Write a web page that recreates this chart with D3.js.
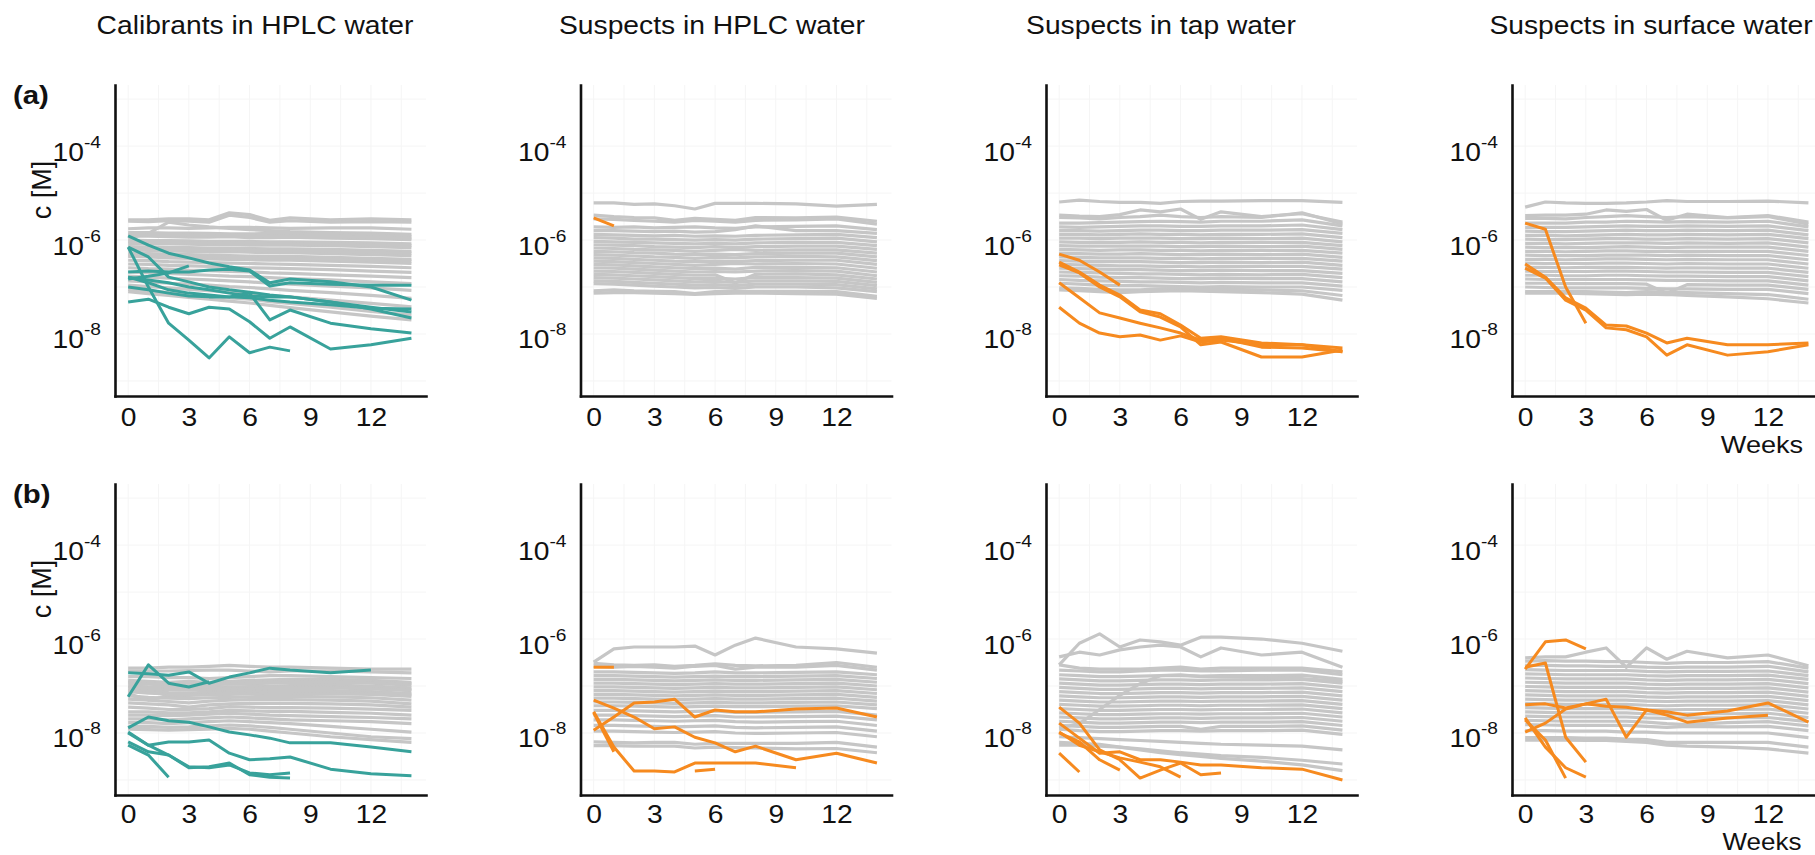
<!DOCTYPE html>
<html><head><meta charset="utf-8">
<script src="https://cdn.jsdelivr.net/npm/d3@7"></script>
<style>body{margin:0;background:#fff}svg{display:block}</style>
</head><body>
<svg id="chart" width="1815" height="855"></svg>
<script>
// ---------- DATA (log10 of concentration in M) ----------
const weeks = [0,1,2,3,4,5,6,7,8,10,12,14];
const panelTitles = ["Calibrants in HPLC water","Suspects in HPLC water","Suspects in tap water","Suspects in surface water"];
const rowLabels = ["(a)","(b)"];
const yTickExps = [-4,-6,-8];
const xTickWeeks = [0,3,6,9,12];
const yAxisLabel = "c [M]";
const xAxisLabel = "Weeks";

const grayA1 = [
[-5.57,-5.57,-5.55,-5.55,-5.57,-5.42,-5.46,-5.58,-5.53,-5.57,-5.55,-5.57],
[-5.60,-5.61,-5.59,-5.60,-5.62,-5.47,-5.52,-5.62,-5.59,-5.62,-5.61,-5.62],
[-5.76,-5.74,-5.74,-5.75,-5.74,-5.73,-5.73,-5.74,-5.75,-5.74,-5.74,-5.77],
[-5.96,-5.86,-5.62,-5.68,-5.72,-5.75,-5.78,-5.80,-5.82,-5.84,-5.85,-5.88],
[-5.84,-5.84,-5.85,-5.85,-5.86,-5.87,-5.87,-5.86,-5.86,-5.88,-5.90,-5.92],
[-5.92,-5.92,-5.93,-5.94,-5.94,-5.93,-5.95,-5.95,-5.94,-5.96,-5.97,-5.99],
[-6.00,-6.01,-6.01,-6.02,-6.03,-6.03,-6.03,-6.04,-6.04,-6.05,-6.06,-6.08],
[-6.07,-6.08,-6.08,-6.09,-6.10,-6.10,-6.11,-6.11,-6.11,-6.12,-6.14,-6.16],
[-6.14,-6.15,-6.16,-6.16,-6.17,-6.17,-6.18,-6.19,-6.19,-6.20,-6.22,-6.24],
[-6.21,-6.22,-6.23,-6.24,-6.25,-6.25,-6.26,-6.27,-6.27,-6.29,-6.31,-6.33],
[-6.28,-6.29,-6.30,-6.31,-6.32,-6.33,-6.34,-6.35,-6.35,-6.37,-6.39,-6.41],
[-6.35,-6.36,-6.38,-6.39,-6.40,-6.41,-6.42,-6.43,-6.43,-6.45,-6.47,-6.50],
[-6.43,-6.44,-6.46,-6.47,-6.48,-6.49,-6.50,-6.51,-6.52,-6.54,-6.56,-6.59],
[-6.51,-6.52,-6.54,-6.55,-6.56,-6.58,-6.59,-6.60,-6.61,-6.63,-6.66,-6.69],
[-6.59,-6.61,-6.62,-6.64,-6.65,-6.67,-6.68,-6.70,-6.71,-6.74,-6.77,-6.80],
[-6.68,-6.70,-6.71,-6.73,-6.75,-6.77,-6.78,-6.80,-6.82,-6.85,-6.89,-6.93],
[-6.77,-6.79,-6.81,-6.83,-6.85,-6.87,-6.89,-6.92,-6.94,-6.98,-7.02,-7.07],
[-6.87,-6.89,-6.92,-6.94,-6.96,-6.99,-7.01,-7.04,-7.07,-7.12,-7.18,-7.24],
[-6.96,-6.99,-7.02,-7.05,-7.08,-7.11,-7.14,-7.18,-7.21,-7.28,-7.35,-7.42],
[-7.05,-7.08,-7.12,-7.15,-7.19,-7.23,-7.26,-7.31,-7.35,-7.43,-7.52,-7.60],
[-7.10,-7.14,-7.18,-7.22,-7.26,-7.30,-7.34,-7.39,-7.44,-7.53,-7.62,-7.70],
[-5.88,-5.89,-5.89,-5.90,-5.91,-5.90,-5.91,-5.92,-5.91,-5.92,-5.94,-5.96],
[-6.04,-6.05,-6.05,-6.06,-6.07,-6.06,-6.07,-6.08,-6.08,-6.09,-6.10,-6.12],
[-6.18,-6.19,-6.20,-6.20,-6.21,-6.21,-6.22,-6.23,-6.23,-6.24,-6.26,-6.28],
[-6.32,-6.33,-6.34,-6.35,-6.36,-6.37,-6.38,-6.39,-6.39,-6.41,-6.43,-6.45]
];
const grayA2 = [
[-5.21,-5.21,-5.24,-5.23,-5.27,-5.34,-5.22,-5.22,-5.22,-5.23,-5.28,-5.24],
[-5.47,-5.50,-5.52,-5.53,-5.58,-5.54,-5.56,-5.58,-5.52,-5.53,-5.51,-5.60],
[-5.55,-5.56,-5.58,-5.60,-5.62,-5.58,-5.60,-5.62,-5.58,-5.57,-5.55,-5.66],
[-5.72,-5.73,-5.72,-5.74,-5.73,-5.72,-5.74,-5.75,-5.72,-5.71,-5.70,-5.78],
[-5.80,-5.80,-5.81,-5.82,-5.81,-5.83,-5.82,-5.78,-5.70,-5.80,-5.80,-5.86],
[-5.88,-5.89,-5.90,-5.91,-5.90,-5.92,-5.91,-5.92,-5.90,-5.89,-5.88,-5.95],
[-5.95,-5.96,-5.98,-5.98,-5.99,-6.00,-5.99,-6.00,-5.98,-5.97,-5.96,-6.04],
[-6.03,-6.04,-6.05,-6.06,-6.07,-6.08,-6.07,-6.08,-6.06,-6.05,-6.05,-6.12],
[-6.10,-6.11,-6.12,-6.14,-6.15,-6.16,-6.14,-6.16,-6.14,-6.13,-6.13,-6.20],
[-6.17,-6.18,-6.20,-6.21,-6.22,-6.24,-6.22,-6.20,-6.22,-6.21,-6.21,-6.28],
[-6.24,-6.25,-6.27,-6.28,-6.30,-6.31,-6.30,-6.31,-6.29,-6.28,-6.28,-6.36],
[-6.31,-6.32,-6.34,-6.36,-6.37,-6.39,-6.37,-6.38,-6.36,-6.35,-6.36,-6.44],
[-6.38,-6.39,-6.41,-6.43,-6.45,-6.46,-6.45,-6.46,-6.44,-6.43,-6.43,-6.52],
[-6.45,-6.46,-6.48,-6.50,-6.52,-6.54,-6.52,-6.50,-6.51,-6.50,-6.51,-6.60],
[-6.52,-6.53,-6.55,-6.57,-6.59,-6.61,-6.60,-6.62,-6.58,-6.58,-6.59,-6.68],
[-6.59,-6.60,-6.62,-6.64,-6.66,-6.68,-6.67,-6.68,-6.66,-6.65,-6.66,-6.76],
[-6.66,-6.67,-6.69,-6.71,-6.73,-6.75,-6.74,-6.91,-6.73,-6.72,-6.74,-6.83],
[-6.73,-6.74,-6.76,-6.78,-6.80,-6.82,-6.81,-6.83,-6.80,-6.80,-6.81,-6.90],
[-6.80,-6.81,-6.83,-6.85,-6.87,-6.89,-6.88,-6.90,-6.87,-6.87,-6.88,-6.97],
[-6.87,-6.88,-6.90,-6.92,-6.94,-6.96,-6.95,-6.97,-6.94,-6.94,-6.95,-7.04],
[-6.93,-6.94,-6.96,-6.98,-7.00,-7.02,-7.01,-7.03,-7.00,-7.00,-7.02,-7.10],
[-7.08,-7.06,-7.08,-7.09,-7.10,-7.14,-7.10,-7.09,-7.09,-7.09,-7.10,-7.20],
[-7.13,-7.12,-7.12,-7.13,-7.14,-7.16,-7.14,-7.13,-7.13,-7.14,-7.15,-7.24]
];
const grayA3 = [
[-5.19,-5.15,-5.18,-5.20,-5.20,-5.22,-5.18,-5.17,-5.17,-5.16,-5.16,-5.20],
[-5.47,-5.49,-5.50,-5.46,-5.36,-5.40,-5.34,-5.56,-5.40,-5.50,-5.44,-5.62],
[-5.52,-5.53,-5.55,-5.52,-5.50,-5.47,-5.50,-5.52,-5.50,-5.52,-5.42,-5.66],
[-5.64,-5.64,-5.63,-5.62,-5.61,-5.60,-5.61,-5.62,-5.60,-5.60,-5.57,-5.70],
[-5.72,-5.73,-5.72,-5.71,-5.70,-5.70,-5.71,-5.71,-5.70,-5.70,-5.68,-5.78],
[-5.80,-5.80,-5.81,-5.80,-5.79,-5.79,-5.80,-5.80,-5.79,-5.79,-5.78,-5.86],
[-5.88,-5.88,-5.89,-5.88,-5.87,-5.88,-5.88,-5.89,-5.88,-5.88,-5.87,-5.95],
[-5.96,-5.96,-5.97,-5.96,-5.96,-5.96,-5.97,-5.97,-5.96,-5.97,-5.96,-6.04],
[-6.04,-6.05,-6.05,-6.05,-6.04,-6.05,-6.05,-6.06,-6.05,-6.05,-6.05,-6.12],
[-6.12,-6.13,-6.13,-6.13,-6.13,-6.13,-6.14,-6.14,-6.13,-6.14,-6.13,-6.20],
[-6.20,-6.21,-6.22,-6.21,-6.21,-6.22,-6.22,-6.23,-6.22,-6.22,-6.22,-6.28],
[-6.28,-6.29,-6.30,-6.30,-6.29,-6.30,-6.31,-6.31,-6.30,-6.31,-6.30,-6.37],
[-6.36,-6.37,-6.38,-6.38,-6.38,-6.39,-6.39,-6.40,-6.39,-6.39,-6.39,-6.45],
[-6.44,-6.45,-6.46,-6.46,-6.46,-6.47,-6.48,-6.48,-6.47,-6.48,-6.47,-6.54],
[-6.52,-6.53,-6.54,-6.55,-6.55,-6.56,-6.56,-6.57,-6.56,-6.56,-6.56,-6.62],
[-6.60,-6.61,-6.62,-6.63,-6.63,-6.64,-6.65,-6.65,-6.64,-6.65,-6.65,-6.71],
[-6.68,-6.69,-6.70,-6.71,-6.72,-6.72,-6.73,-6.74,-6.73,-6.74,-6.73,-6.80],
[-6.76,-6.77,-6.79,-6.80,-6.80,-6.81,-6.82,-6.82,-6.81,-6.82,-6.82,-6.89],
[-6.84,-6.86,-6.87,-6.88,-6.89,-6.89,-6.90,-6.91,-6.90,-6.91,-6.91,-6.98],
[-6.92,-6.94,-6.96,-6.97,-6.97,-6.98,-6.99,-7.00,-6.99,-7.00,-7.00,-7.07],
[-7.02,-7.03,-7.05,-7.06,-7.06,-7.04,-7.03,-7.04,-7.05,-7.06,-7.08,-7.18],
[-7.06,-7.08,-7.10,-7.12,-7.10,-7.09,-7.08,-7.09,-7.10,-7.12,-7.15,-7.28]
];
const grayA4 = [
[-5.30,-5.19,-5.21,-5.22,-5.22,-5.21,-5.19,-5.16,-5.18,-5.18,-5.17,-5.21],
[-5.48,-5.47,-5.47,-5.45,-5.36,-5.39,-5.35,-5.58,-5.45,-5.52,-5.48,-5.62],
[-5.54,-5.54,-5.55,-5.52,-5.50,-5.48,-5.50,-5.52,-5.50,-5.53,-5.50,-5.66],
[-5.64,-5.64,-5.64,-5.62,-5.62,-5.60,-5.61,-5.62,-5.61,-5.62,-5.60,-5.72],
[-5.73,-5.73,-5.73,-5.72,-5.71,-5.70,-5.71,-5.71,-5.70,-5.71,-5.70,-5.80],
[-5.81,-5.82,-5.82,-5.81,-5.80,-5.79,-5.80,-5.80,-5.79,-5.80,-5.79,-5.89],
[-5.90,-5.90,-5.91,-5.90,-5.89,-5.88,-5.89,-5.89,-5.88,-5.89,-5.88,-5.97],
[-5.98,-5.99,-5.99,-5.98,-5.97,-5.97,-5.98,-5.98,-5.97,-5.98,-5.97,-6.06],
[-6.07,-6.07,-6.08,-6.07,-6.06,-6.06,-6.06,-6.07,-6.06,-6.07,-6.06,-6.15],
[-6.15,-6.16,-6.16,-6.16,-6.15,-6.14,-6.15,-6.16,-6.15,-6.15,-6.15,-6.24],
[-6.24,-6.24,-6.25,-6.24,-6.23,-6.23,-6.24,-6.24,-6.24,-6.24,-6.24,-6.33],
[-6.32,-6.33,-6.33,-6.33,-6.32,-6.32,-6.32,-6.33,-6.32,-6.33,-6.33,-6.42],
[-6.41,-6.41,-6.42,-6.41,-6.40,-6.40,-6.41,-6.42,-6.41,-6.42,-6.42,-6.51],
[-6.49,-6.50,-6.50,-6.50,-6.49,-6.49,-6.50,-6.51,-6.50,-6.51,-6.51,-6.60],
[-6.58,-6.58,-6.59,-6.58,-6.58,-6.58,-6.59,-6.60,-6.59,-6.60,-6.60,-6.69],
[-6.66,-6.67,-6.67,-6.67,-6.66,-6.66,-6.67,-6.68,-6.68,-6.69,-6.69,-6.78],
[-6.75,-6.75,-6.76,-6.76,-6.75,-6.75,-6.76,-6.77,-6.77,-6.78,-6.78,-6.87],
[-6.83,-6.84,-6.84,-6.84,-6.84,-6.84,-6.85,-6.86,-6.86,-6.87,-6.87,-6.96],
[-6.92,-6.92,-6.93,-6.93,-6.93,-6.93,-6.94,-7.13,-6.95,-6.96,-6.96,-7.05],
[-7.00,-7.01,-7.02,-7.02,-7.02,-7.02,-7.03,-7.04,-7.04,-7.05,-7.05,-7.14],
[-7.10,-7.10,-7.10,-7.10,-7.11,-7.12,-7.10,-7.11,-7.12,-7.14,-7.16,-7.26],
[-7.13,-7.13,-7.13,-7.14,-7.15,-7.16,-7.15,-7.16,-7.18,-7.21,-7.25,-7.34]
];
const grayB1 = [
[-6.62,-6.62,-6.60,-6.60,-6.58,-6.56,-6.58,-6.60,-6.60,-6.62,-6.64,-6.64],
[-6.68,-6.68,-6.68,-6.67,-6.66,-6.66,-6.68,-6.70,-6.68,-6.68,-6.70,-6.72],
[-6.80,-6.80,-6.82,-6.82,-6.84,-6.82,-6.80,-6.78,-6.78,-6.80,-6.82,-6.84],
[-6.88,-6.90,-6.92,-6.90,-6.92,-6.90,-6.88,-6.87,-6.86,-6.86,-6.88,-6.92],
[-6.92,-6.93,-6.95,-6.95,-6.94,-6.93,-6.92,-6.91,-6.90,-6.89,-6.91,-6.95],
[-6.95,-6.96,-6.98,-6.98,-6.97,-6.96,-6.95,-6.94,-6.93,-6.92,-6.94,-6.98],
[-7.00,-7.02,-7.03,-7.04,-7.03,-7.02,-7.01,-7.00,-6.99,-6.98,-7.00,-7.04],
[-7.02,-7.05,-7.06,-7.07,-7.06,-7.04,-7.04,-7.03,-7.02,-7.01,-7.03,-7.07],
[-7.05,-7.07,-7.08,-7.09,-7.08,-7.07,-7.06,-7.05,-7.05,-7.04,-7.06,-7.10],
[-7.10,-7.12,-7.14,-7.15,-7.13,-7.12,-7.11,-7.10,-7.10,-7.10,-7.12,-7.16],
[-7.12,-7.15,-7.17,-7.17,-7.16,-7.15,-7.14,-7.13,-7.13,-7.13,-7.15,-7.19],
[-7.16,-7.30,-7.20,-7.20,-7.19,-7.18,-7.17,-7.16,-7.16,-7.17,-7.18,-7.22],
[-7.21,-7.24,-7.26,-7.27,-7.25,-7.24,-7.23,-7.22,-7.22,-7.23,-7.25,-7.30],
[-7.28,-7.30,-7.33,-7.36,-7.32,-7.30,-7.29,-7.29,-7.29,-7.30,-7.32,-7.38],
[-7.36,-7.38,-7.40,-7.45,-7.40,-7.38,-7.37,-7.37,-7.37,-7.38,-7.40,-7.45],
[-7.45,-7.47,-7.50,-7.50,-7.48,-7.44,-7.45,-7.46,-7.46,-7.47,-7.49,-7.52],
[-7.55,-7.55,-7.57,-7.57,-7.55,-7.52,-7.53,-7.54,-7.54,-7.56,-7.58,-7.62],
[-7.62,-7.62,-7.63,-7.62,-7.60,-7.58,-7.60,-7.62,-7.63,-7.65,-7.67,-7.70],
[-7.70,-7.70,-7.72,-7.70,-7.68,-7.66,-7.68,-7.70,-7.72,-7.74,-7.76,-7.80],
[-7.78,-7.78,-7.80,-7.78,-7.76,-7.74,-7.76,-7.78,-7.80,-7.86,-7.92,-7.98],
[-7.86,-7.86,-7.88,-7.87,-7.85,-7.83,-7.85,-7.88,-7.92,-8.00,-8.08,-8.12],
[-7.92,-7.93,-7.94,-7.93,-7.92,-7.90,-7.92,-7.96,-8.00,-8.08,-8.14,-8.20]
];
const grayB2 = [
[-6.49,-6.21,-6.17,-6.17,-6.17,-6.15,-6.34,-6.13,-5.98,-6.17,-6.21,-6.30],
[-6.52,-6.55,-6.56,-6.55,-6.58,-6.56,-6.53,-6.56,-6.57,-6.56,-6.50,-6.60],
[-6.58,-6.60,-6.58,-6.60,-6.62,-6.58,-6.56,-6.64,-6.60,-6.60,-6.56,-6.66],
[-6.70,-6.70,-6.71,-6.72,-6.73,-6.72,-6.70,-6.72,-6.72,-6.71,-6.70,-6.76],
[-6.78,-6.78,-6.79,-6.80,-6.81,-6.80,-6.79,-6.80,-6.80,-6.79,-6.78,-6.84],
[-6.86,-6.86,-6.87,-6.88,-6.89,-6.88,-6.87,-6.88,-6.88,-6.87,-6.86,-6.92],
[-6.94,-6.94,-6.95,-6.96,-6.97,-6.96,-6.95,-6.96,-6.96,-6.95,-6.94,-7.00],
[-7.02,-7.02,-7.03,-7.04,-7.05,-7.04,-7.03,-7.04,-7.04,-7.03,-7.02,-7.08],
[-7.10,-7.10,-7.11,-7.12,-7.13,-7.12,-7.11,-7.12,-7.12,-7.11,-7.10,-7.16],
[-7.18,-7.18,-7.19,-7.20,-7.21,-7.20,-7.19,-7.20,-7.20,-7.19,-7.18,-7.24],
[-7.26,-7.26,-7.27,-7.28,-7.29,-7.28,-7.27,-7.28,-7.28,-7.27,-7.26,-7.32],
[-7.34,-7.34,-7.35,-7.36,-7.37,-7.36,-7.35,-7.36,-7.36,-7.35,-7.34,-7.40],
[-7.42,-7.42,-7.43,-7.44,-7.45,-7.44,-7.43,-7.44,-7.44,-7.43,-7.42,-7.48],
[-7.52,-7.52,-7.53,-7.54,-7.55,-7.54,-7.53,-7.56,-7.56,-7.55,-7.54,-7.62],
[-7.62,-7.62,-7.63,-7.64,-7.65,-7.64,-7.63,-7.66,-7.66,-7.65,-7.64,-7.72],
[-7.72,-7.72,-7.73,-7.74,-7.75,-7.74,-7.73,-7.76,-7.77,-7.76,-7.75,-7.84],
[-7.84,-7.84,-7.85,-7.86,-7.87,-7.86,-7.85,-7.88,-7.89,-7.88,-7.87,-7.96],
[-7.96,-7.96,-7.97,-7.98,-7.99,-7.98,-7.97,-8.00,-8.01,-8.00,-7.99,-8.08],
[-8.19,-8.20,-8.21,-8.20,-8.20,-8.24,-8.22,-8.22,-8.22,-8.22,-8.20,-8.30],
[-8.27,-8.27,-8.28,-8.28,-8.28,-8.32,-8.30,-8.31,-8.32,-8.34,-8.33,-8.42]
];
const grayB3 = [
[-6.55,-6.09,-5.89,-6.17,-6.02,-6.06,-6.13,-5.96,-5.96,-6.00,-6.09,-6.26],
[-6.38,-6.28,-6.34,-6.23,-6.17,-6.13,-6.17,-6.38,-6.19,-6.34,-6.28,-6.60],
[-6.55,-6.62,-6.64,-6.64,-6.64,-6.62,-6.60,-6.64,-6.62,-6.62,-6.62,-6.70],
[-6.66,-6.68,-6.70,-6.70,-6.68,-6.66,-6.66,-6.68,-6.68,-6.66,-6.66,-6.76],
[-6.76,-6.78,-6.80,-6.80,-6.79,-6.78,-6.78,-6.79,-6.78,-6.78,-6.77,-6.86],
[-6.85,-6.87,-6.89,-6.89,-6.88,-6.87,-6.87,-6.88,-6.87,-6.87,-6.86,-6.94],
[-6.94,-6.96,-6.98,-6.98,-6.97,-6.96,-6.96,-6.97,-6.96,-6.96,-6.95,-7.03],
[-7.03,-7.05,-7.07,-7.07,-7.06,-7.05,-7.05,-7.06,-7.05,-7.05,-7.04,-7.12],
[-7.12,-7.14,-7.16,-7.16,-7.15,-7.14,-7.14,-7.15,-7.14,-7.14,-7.13,-7.21],
[-7.21,-7.23,-7.25,-7.25,-7.24,-7.23,-7.23,-7.24,-7.23,-7.23,-7.22,-7.30],
[-7.30,-7.32,-7.34,-7.34,-7.33,-7.32,-7.32,-7.33,-7.32,-7.32,-7.31,-7.39],
[-7.39,-7.41,-7.43,-7.43,-7.42,-7.41,-7.41,-7.42,-7.41,-7.41,-7.40,-7.48],
[-7.48,-7.50,-7.52,-7.52,-7.51,-7.50,-7.50,-7.51,-7.50,-7.50,-7.49,-7.57],
[-7.57,-7.59,-7.61,-7.61,-7.60,-7.59,-7.59,-7.60,-7.59,-7.59,-7.58,-7.66],
[-7.66,-7.68,-7.70,-7.70,-7.69,-7.68,-7.68,-7.69,-7.68,-7.68,-7.67,-7.75],
[-7.75,-7.77,-7.79,-7.79,-7.78,-7.77,-7.77,-7.78,-7.77,-7.77,-7.76,-7.84],
[-7.84,-7.86,-7.88,-7.88,-7.87,-7.86,-7.86,-7.92,-7.86,-7.86,-7.85,-7.94],
[-7.92,-7.95,-7.97,-7.97,-7.96,-7.95,-7.95,-7.96,-7.95,-7.95,-7.94,-8.03],
[-7.90,-7.80,-7.50,-7.20,-6.95,-6.78,-6.76,-6.80,-6.80,-6.82,-6.84,-6.90],
[-8.08,-8.10,-8.12,-8.14,-8.16,-8.18,-8.20,-8.22,-8.24,-8.26,-8.28,-8.36],
[-8.26,-8.26,-8.28,-8.30,-8.34,-8.38,-8.42,-8.45,-8.48,-8.52,-8.58,-8.66],
[-8.20,-8.22,-8.24,-8.30,-8.36,-8.42,-8.46,-8.50,-8.54,-8.60,-8.68,-8.80]
];
const grayB4 = [
[-6.40,-6.38,-6.38,-6.28,-6.19,-6.60,-6.19,-6.43,-6.26,-6.40,-6.34,-6.57],
[-6.47,-6.46,-6.47,-6.47,-6.48,-6.48,-6.50,-6.52,-6.50,-6.50,-6.48,-6.62],
[-6.56,-6.56,-6.57,-6.57,-6.58,-6.58,-6.60,-6.61,-6.60,-6.60,-6.58,-6.70],
[-6.65,-6.66,-6.67,-6.67,-6.67,-6.67,-6.69,-6.70,-6.69,-6.69,-6.68,-6.78],
[-6.74,-6.75,-6.76,-6.76,-6.76,-6.76,-6.78,-6.79,-6.78,-6.78,-6.77,-6.86],
[-6.83,-6.84,-6.85,-6.85,-6.85,-6.85,-6.87,-6.88,-6.87,-6.87,-6.86,-6.95],
[-6.92,-6.93,-6.94,-6.94,-6.94,-6.94,-6.96,-6.97,-6.96,-6.96,-6.95,-7.04],
[-7.01,-7.02,-7.03,-7.03,-7.03,-7.03,-7.05,-7.06,-7.05,-7.05,-7.04,-7.13],
[-7.10,-7.11,-7.12,-7.12,-7.12,-7.12,-7.14,-7.15,-7.14,-7.14,-7.13,-7.22],
[-7.19,-7.20,-7.21,-7.21,-7.21,-7.21,-7.23,-7.24,-7.23,-7.23,-7.22,-7.31],
[-7.28,-7.29,-7.30,-7.30,-7.30,-7.30,-7.32,-7.33,-7.32,-7.32,-7.31,-7.40],
[-7.37,-7.38,-7.39,-7.39,-7.39,-7.39,-7.41,-7.42,-7.41,-7.41,-7.40,-7.49],
[-7.46,-7.47,-7.48,-7.48,-7.48,-7.48,-7.50,-7.51,-7.50,-7.50,-7.49,-7.58],
[-7.55,-7.56,-7.57,-7.57,-7.57,-7.57,-7.59,-7.60,-7.59,-7.59,-7.58,-7.67],
[-7.64,-7.65,-7.66,-7.66,-7.66,-7.66,-7.68,-7.69,-7.68,-7.68,-7.67,-7.76],
[-7.73,-7.74,-7.75,-7.75,-7.75,-7.75,-7.77,-7.80,-7.82,-7.78,-7.76,-7.85],
[-7.82,-7.83,-7.84,-7.84,-7.84,-7.84,-7.86,-7.88,-7.86,-7.87,-7.86,-7.95],
[-7.95,-7.95,-7.96,-7.96,-7.96,-7.98,-7.98,-8.00,-8.00,-8.00,-8.00,-8.10],
[-8.10,-8.10,-8.10,-8.11,-8.11,-8.13,-8.14,-8.20,-8.20,-8.20,-8.20,-8.30],
[-8.15,-8.15,-8.15,-8.16,-8.16,-8.18,-8.20,-8.26,-8.28,-8.30,-8.34,-8.43]
];

// highlighted compounds (calibrants = teal, suspects = orange)
const calibA1 = [
[-5.91,-6.11,-6.28,-6.38,-6.49,-6.57,-6.64,-6.91,-6.83,-6.89,-7.00,-7.28],
[-6.15,-7.00,-7.77,-8.13,-8.51,-8.06,-8.40,-8.28,-8.36],
[-6.68,-6.66,-6.68,-6.68,-6.64,-6.62,-6.66,-6.98,-6.91,-6.94,-6.96,-6.96],
[-6.83,-6.77,-6.70,-6.55],
[-6.79,-6.85,-6.91,-7.00,-7.06,-7.13,-7.19,-7.21,-7.21,-7.32,-7.43,-7.53],
[-7.00,-7.06,-7.13,-7.19,-7.21,-7.21,-7.23,-7.28,-7.32,-7.38,-7.45,-7.47],
[-6.15,-6.36,-6.79,-6.89,-7.00,-7.06,-7.11,-7.17,-7.21,-7.32,-7.47,-7.66],
[-7.32,-7.26,-7.43,-7.57,-7.43,-7.47,-7.74,-8.09,-7.85,-8.32,-8.23,-8.09],
[-6.79,-6.91,-7.06,-7.13,-7.17,-7.21,-7.13,-7.70,-7.49,-7.77,-7.89,-7.98]
];
const suspA2 = [[-5.53,-5.70]];
const suspA3 = [
[-6.30,-6.43,-6.68,-6.96],
[-6.47,-6.68,-6.96,-7.17,-7.49,-7.57,-7.81,-8.09,-8.06,-8.19,-8.23,-8.30],
[-6.53,-6.70,-7.00,-7.21,-7.53,-7.64,-7.85,-8.23,-8.17,-8.49,-8.49,-8.34],
[-6.91,-7.23,-7.55,-7.66,-7.77,-7.87,-7.98,-8.13,-8.09,-8.28,-8.30,-8.38],
[-7.43,-7.77,-7.98,-8.06,-8.02,-8.13,-8.04,-8.17,-8.13,-8.23,-8.23,-8.38]
];
const suspA4 = [
[-5.64,-5.77,-7.00,-7.77],
[-6.51,-6.79,-7.23,-7.45,-7.81,-7.83,-7.98,-8.19,-8.09,-8.23,-8.23,-8.19],
[-6.60,-6.81,-7.28,-7.49,-7.87,-7.91,-8.06,-8.45,-8.23,-8.45,-8.38,-8.23]
];
const calibB1 = [
[-7.23,-6.55,-6.94,-7.02,-6.91],
[-6.72,-6.74,-6.77,-6.70,-6.94,-6.81,-6.72,-6.62,-6.66,-6.72,-6.66],
[-7.89,-7.66,-7.74,-7.77,-7.87,-7.98,-8.04,-8.11,-8.21,-8.21,-8.30,-8.40],
[-7.98,-8.26,-8.19,-8.19,-8.15,-8.43,-8.57,-8.55,-8.51,-8.77,-8.87,-8.91],
[-8.00,-8.26,-8.47,-8.74,-8.72,-8.64,-8.89,-8.94,-8.96],
[-8.19,-8.40,-8.47,-8.72,-8.74,-8.68,-8.85,-8.89,-8.85],
[-8.26,-8.47,-8.94]
];
const suspB2 = [
[-6.60,-6.60],
[-7.94,-7.66,-7.36,-7.34,-7.28,-7.66,-7.51,-7.55,-7.55,-7.49,-7.47,-7.66],
[-7.30,-7.47,-7.66,-7.91,-7.87,-8.09,-8.21,-8.40,-8.28,-8.57,-8.43,-8.64],
[-7.55,-8.30,-8.81,-8.81,-8.83,-8.64,-8.64,-8.64,-8.64,-8.74],
[-7.57,-8.40],
[null,null,null,null,null,-8.81,-8.77]
];
const suspB3 = [
[-7.45,-7.79,-8.36,-8.57,-8.96,-8.79,-8.64,-8.89,-8.85],
[-7.79,-8.11,-8.43,-8.40,-8.57,-8.57,-8.62,-8.68,-8.68,-8.74,-8.77,-9.00],
[-8.00,-8.19,-8.57,-8.79],
[-7.98,-8.26,-8.40,-8.53,-8.62,-8.72,-8.94],
[-8.43,-8.83]
];
const suspB4 = [
[-6.64,-6.06,-6.02,-6.21],
[-6.60,-6.51,-8.09,-8.62],
[-7.40,-7.38,-7.47,-7.38,-7.28,-8.09,-7.51,-7.55,-7.62,-7.53,-7.36,-7.77],
[-7.98,-7.79,-7.49,-7.38,-7.43,-7.45,-7.51,-7.62,-7.77,-7.68,-7.62],
[-7.68,-8.30,-8.74,-8.94],
[-7.72,-8.15,-8.96]
];

// ---------- LAYOUT / STYLE ----------
const TEAL = "#38a29b", ORANGE = "#f68a1f", GRAY = "#c6c6c6";
const FONT = "'Liberation Sans', Arial, Helvetica, sans-serif";
const SX = 1.13;
const colLeft = [115, 580.5, 1046, 1512];
const rowTop = [85, 484];
const PW = 311, PH = 311;
const titleX = [255, 712, 1161, 1651];

const panels = [
  {row:0,col:0,gray:grayA1,hi:calibA1,color:TEAL},
  {row:0,col:1,gray:grayA2,hi:suspA2,color:ORANGE},
  {row:0,col:2,gray:grayA3,hi:suspA3,color:ORANGE},
  {row:0,col:3,gray:grayA4,hi:suspA4,color:ORANGE},
  {row:1,col:0,gray:grayB1,hi:calibB1,color:TEAL},
  {row:1,col:1,gray:grayB2,hi:suspB2,color:ORANGE},
  {row:1,col:2,gray:grayB3,hi:suspB3,color:ORANGE},
  {row:1,col:3,gray:grayB4,hi:suspB4,color:ORANGE}
];

const svg = d3.select("#chart");
svg.append("rect").attr("width",1815).attr("height",855).attr("fill","#fff");

const gridDecades = d3.range(-9,-2);
const gridWeeks = d3.range(0,14,1.5);

panels.forEach(p=>{
  const x0 = colLeft[p.col], y0 = rowTop[p.row];
  const x = d3.scaleLinear().domain([-0.65,14.72]).range([x0, x0+PW]);
  const y = d3.scaleLog().domain([Math.pow(10,-9.32), Math.pow(10,-2.70)]).range([y0+PH, y0]);
  const g = svg.append("g");

  const grid = g.append("g").attr("stroke","#f5f5f5").attr("stroke-width",1);
  grid.selectAll("line.h").data(gridDecades).join("line").attr("class","h")
    .attr("x1",x0).attr("x2",x0+PW)
    .attr("y1",d=>y(Math.pow(10,d))).attr("y2",d=>y(Math.pow(10,d)));
  grid.selectAll("line.v").data(gridWeeks).join("line").attr("class","v")
    .attr("x1",d=>x(d)).attr("x2",d=>x(d)).attr("y1",y0).attr("y2",y0+PH);

  const line = d3.line().defined(d=>d!=null)
    .x((d,i)=>x(weeks[i])).y(d=>y(Math.pow(10,d)));

  g.append("g").selectAll("path").data(p.gray).join("path")
    .attr("d",line).attr("fill","none").attr("stroke",GRAY)
    .attr("stroke-width",3.2).attr("stroke-linejoin","round");
  g.append("g").selectAll("path").data(p.hi).join("path")
    .attr("d",line).attr("fill","none").attr("stroke",p.color)
    .attr("stroke-width",3).attr("stroke-linejoin","round");

  // y axis
  const ya = g.append("g").attr("transform",`translate(${x0},0)`)
    .call(d3.axisLeft(y).tickValues(yTickExps.map(e=>Math.pow(10,e))).tickSize(0).tickSizeOuter(0).tickFormat(""));
  ya.attr("font-size",null).attr("font-family",FONT);
  ya.select(".domain").attr("stroke","#111").attr("stroke-width",2.6).attr("stroke-linecap","square");
  ya.selectAll(".tick text").each(function(d){
    const t = d3.select(this);
    t.text(null).attr("x",null).attr("dy",null).attr("fill","#111")
     .attr("text-anchor","end").attr("font-size",25)
     .attr("transform",`translate(-14,14) scale(${SX},1)`);
    t.append("tspan").text("10");
    t.append("tspan").attr("dy",-13).attr("font-size",17).text(String(Math.round(Math.log10(d))));
  });

  // x axis
  const xa = g.append("g").attr("transform",`translate(0,${y0+PH})`)
    .call(d3.axisBottom(x).tickValues(xTickWeeks).tickSize(0).tickSizeOuter(0));
  xa.attr("font-size",null).attr("font-family",FONT);
  xa.select(".domain").attr("stroke","#111").attr("stroke-width",2.6).attr("stroke-linecap","square");
  xa.selectAll(".tick text").attr("y",null).attr("dy",null).attr("fill","#111")
    .attr("font-size",25).attr("transform",`translate(0,${p.row===1?28:30}) scale(${SX},1)`);

  if (p.col===0) {
    svg.append("text").attr("font-family",FONT).attr("font-size",27).attr("fill","#111")
      .attr("text-anchor","middle")
      .attr("transform",`translate(51,${y0+105}) rotate(-90)`).text(yAxisLabel);
    svg.append("text").attr("font-family",FONT).attr("font-size",26).attr("font-weight","bold")
      .attr("fill","#111").attr("transform",`translate(13,${y0+19}) scale(${SX},1)`)
      .text(rowLabels[p.row]);
  }
  if (p.col===3) {
    svg.append("text").attr("font-family",FONT).attr("font-size",p.row===1?23:24).attr("fill","#111")
      .attr("text-anchor","middle")
      .attr("transform",`translate(1762,${y0+PH+(p.row===1?55:57)}) scale(${SX},1)`).text(xAxisLabel);
  }
  if (p.row===0) {
    svg.append("text").attr("font-family",FONT).attr("font-size",25).attr("fill","#111")
      .attr("text-anchor","middle")
      .attr("transform",`translate(${titleX[p.col]},34) scale(${SX},1)`).text(panelTitles[p.col]);
  }
});
</script>
</body></html>
